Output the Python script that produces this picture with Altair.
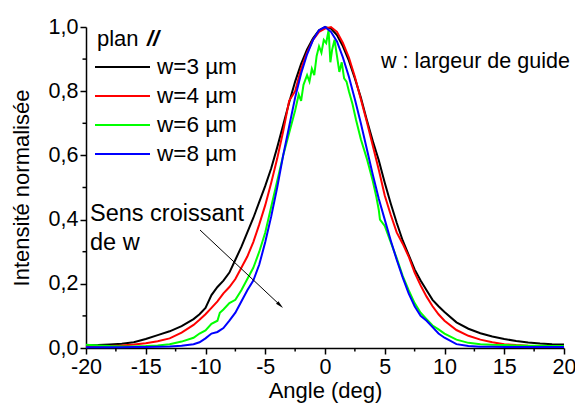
import altair as alt
import pandas as pd

FONT = "Liberation Sans"

SERIES = ["w=3 µm", "w=4 µm", "w=6 µm", "w=8 µm"]
COLORS = ["#000000", "#ff0000", "#00ff00", "#0000ff"]

ANGLE = [-20, -19, -18, -17, -16, -15, -14, -13, -12, -11, -10.5,
         -10, -9.5, -9, -8.5, -8, -7.5, -7, -6.5, -6, -5.5, -5, -4.5, -4, -3.5, -3, -2.5, -2, -1.5, -1, -0.5,
         0, 0.5, 1, 1.5, 2, 2.5, 3, 3.5, 4, 4.5, 5, 5.5, 6, 6.5, 7, 7.5, 8, 8.5, 9, 9.5, 10,
         11, 12, 13, 14, 15, 16, 17, 18, 19, 20]

W3 = [0.008, 0.009, 0.011, 0.013, 0.018, 0.028, 0.040, 0.052, 0.068, 0.090, 0.105,
      0.125, 0.165, 0.19, 0.21, 0.235, 0.275, 0.315, 0.36, 0.405, 0.455, 0.505, 0.56, 0.625, 0.695, 0.765, 0.83, 0.885, 0.93, 0.965, 0.99,
      1.0, 0.995, 0.975, 0.94, 0.895, 0.84, 0.78, 0.71, 0.645, 0.585, 0.515, 0.45, 0.39, 0.335, 0.29, 0.245, 0.21, 0.18, 0.15, 0.13, 0.112,
      0.08, 0.06, 0.046, 0.036, 0.028, 0.022, 0.017, 0.014, 0.012, 0.011]

W4 = [0.004, 0.005, 0.006, 0.008, 0.011, 0.015, 0.021, 0.030, 0.048, 0.072, 0.088,
      0.105, 0.125, 0.145, 0.17, 0.19, 0.215, 0.25, 0.285, 0.33, 0.385, 0.445, 0.515, 0.59, 0.675, 0.77, 0.80, 0.87, 0.92, 0.96, 0.985,
      0.995, 1.0, 0.985, 0.95, 0.905, 0.845, 0.775, 0.705, 0.63, 0.555, 0.475, 0.415, 0.36, 0.325, 0.285, 0.235, 0.195, 0.16, 0.13, 0.105, 0.085,
      0.056, 0.038, 0.026, 0.018, 0.012, 0.009, 0.007, 0.006, 0.005, 0.005]

W8 = [0.002, 0.002, 0.002, 0.002, 0.003, 0.003, 0.004, 0.005, 0.007, 0.012, 0.018,
      0.03, 0.045, 0.05, 0.062, 0.085, 0.11, 0.145, 0.18, 0.21, 0.26, 0.33, 0.41, 0.50, 0.60, 0.69, 0.78, 0.855, 0.915, 0.96, 0.99,
      1.0, 0.985, 0.955, 0.905, 0.845, 0.775, 0.70, 0.62, 0.54, 0.465, 0.40, 0.335, 0.275, 0.22, 0.17, 0.13, 0.10, 0.085, 0.065, 0.045, 0.032,
      0.012, 0.006, 0.004, 0.004, 0.003, 0.003, 0.003, 0.003, 0.003, 0.003]

ANGLE_W6 = [-20, -19, -18, -17, -16, -15, -14, -13, -12, -11, -10.5, -10, -9.5, -9, -8.8, -8.5, -8, -7.5, -7,
            -6.5, -6, -5.5, -5, -4.5, -4, -3.5, -3, -2.5, -2.2, -2, -1.8, -1.5, -1.3, -1.1, -0.9, -0.7, -0.5,
            -0.3, -0.1, 0.1, 0.3, 0.45, 0.6, 0.8, 1.0, 1.2, 1.4, 1.6, 1.8, 2.0, 2.3, 2.6, 3.0, 3.5, 4.0, 4.3,
            4.5, 4.6, 5.0, 5.5, 6, 6.5, 7, 7.5, 8, 8.5, 9, 9.5, 10, 11, 12, 13, 14, 15, 16, 17, 18, 19, 20]

W6 = [0.010, 0.008, 0.006, 0.005, 0.005, 0.006, 0.008, 0.012, 0.02, 0.032, 0.045, 0.055, 0.075, 0.085, 0.11, 0.12, 0.14, 0.15, 0.18,
      0.215, 0.25, 0.30, 0.36, 0.44, 0.52, 0.60, 0.67, 0.74, 0.79, 0.77, 0.82, 0.85, 0.83, 0.87, 0.85, 0.91, 0.94,
      0.92, 0.96, 0.95, 0.99, 0.89, 0.93, 0.96, 0.91, 0.86, 0.89, 0.84, 0.83, 0.80, 0.76, 0.71, 0.65, 0.59, 0.52, 0.47,
      0.43, 0.40, 0.38, 0.33, 0.28, 0.225, 0.18, 0.14, 0.11, 0.09, 0.07, 0.058, 0.045, 0.026, 0.016, 0.012, 0.01, 0.009, 0.008, 0.007, 0.007, 0.006, 0.006]

X_TICKS = [-20, -15, -10, -5, 0, 5, 10, 15, 20]
X_MINOR = [-17.5, -12.5, -7.5, -2.5, 2.5, 7.5, 12.5, 17.5]
Y_TICKS = [0.0, 0.2, 0.4, 0.6, 0.8, 1.0]
Y_MINOR = [0.1, 0.3, 0.5, 0.7, 0.9]

assert len(ANGLE) == len(W3) == len(W4) == len(W8), (len(ANGLE), len(W3), len(W4), len(W8))
assert len(ANGLE_W6) == len(W6), (len(ANGLE_W6), len(W6))

frames = []
for name, xs, ys in [(SERIES[0], ANGLE, W3), (SERIES[1], ANGLE, W4),
                     (SERIES[2], ANGLE_W6, W6), (SERIES[3], ANGLE, W8)]:
    frames.append(pd.DataFrame({"angle": xs, "intensity": ys, "series": name}))
df = pd.concat(frames, ignore_index=True)

W, H = 478, 321
x_scale = alt.Scale(domain=[-20, 20], nice=False, zero=False)
y_scale = alt.Scale(domain=[0, 1], nice=False)

x_axis = alt.Axis(values=X_TICKS, title="Angle (deg)", labelExpr="datum.value + ''",
                  titlePadding=3, labelFlush=False, labelOverlap=False)
y_axis = alt.Axis(values=Y_TICKS, title="Intensité normalisée",
                  labelExpr="replace(format(datum.value, '.1f'), '.', ',')", titlePadding=15,
                  labelFlush=False, labelOverlap=False)

lines = alt.Chart(df).mark_line(strokeWidth=2).encode(
    x=alt.X("angle:Q", scale=x_scale, axis=x_axis),
    y=alt.Y("intensity:Q", scale=y_scale, axis=y_axis),
    color=alt.Color("series:N", scale=alt.Scale(domain=SERIES, range=COLORS), legend=None),
)

minor_x = alt.Chart(pd.DataFrame({"angle": X_MINOR})).mark_rule(color="black", strokeWidth=1.5).encode(
    x=alt.X("angle:Q", scale=x_scale, axis=x_axis),
    y=alt.value(H), y2=alt.value(H + 3.5),
)
minor_y = alt.Chart(pd.DataFrame({"intensity": Y_MINOR})).mark_rule(color="black", strokeWidth=1.5).encode(
    y=alt.Y("intensity:Q", scale=y_scale, axis=y_axis),
    x=alt.value(0), x2=alt.value(-3.5),
)


def one():
    return alt.Chart(pd.DataFrame({"k": [0]}))


layers = [lines, minor_x, minor_y]

# legend (manual)
layers.append(one().mark_text(align="left", baseline="middle", font=FONT, fontSize=22, color="black").encode(
    x=alt.value(11), y=alt.value(12), text=alt.value("plan")))
layers.append(one().mark_text(align="left", baseline="middle", font=FONT, fontSize=22, fontWeight="bold",
                              fontStyle="italic", color="black").encode(
    x=alt.value(61), y=alt.value(12), text=alt.value("//")))
for i, (lab, col) in enumerate(zip(SERIES, COLORS)):
    yy = 40 + 29 * i
    layers.append(one().mark_rule(strokeWidth=2, color=col).encode(
        x=alt.value(9), x2=alt.value(64), y=alt.value(yy)))
    layers.append(one().mark_text(align="left", baseline="middle", font=FONT, fontSize=22.5, color="black").encode(
        x=alt.value(71), y=alt.value(yy), text=alt.value(lab)))

# annotations
layers.append(one().mark_text(align="left", baseline="middle", font=FONT, fontSize=21.5, color="black").encode(
    x=alt.value(295), y=alt.value(35), text=alt.value("w : largeur de guide")))
layers.append(one().mark_text(align="left", baseline="middle", font=FONT, fontSize=23.5, color="black").encode(
    x=alt.value(4), y=alt.value(187), text=alt.value("Sens croissant")))
layers.append(one().mark_text(align="left", baseline="middle", font=FONT, fontSize=23.5, color="black").encode(
    x=alt.value(4), y=alt.value(216), text=alt.value("de w")))

# arrow
layers.append(one().mark_rule(strokeWidth=1, color="black").encode(
    x=alt.value(114), y=alt.value(203), x2=alt.value(195), y2=alt.value(279)))
layers.append(one().mark_point(shape="M0,-1L0.35,0.6L-0.35,0.6Z", filled=True, color="black",
                               size=100, angle=133, opacity=1).encode(
    x=alt.value(193.4), y=alt.value(277.6)))

chart = alt.layer(*layers).properties(
    width=W, height=H,
    autosize=alt.AutoSizeParams(type="none"),
    padding={"left": 78, "top": 19, "right": 11, "bottom": 57},
).configure_axis(
    domainColor="black", domainWidth=1.5, tickColor="black", tickWidth=1.5, tickSize=6,
    labelFont=FONT, labelFontSize=21.5, labelColor="black", labelPadding=2,
    titleFont=FONT, titleFontSize=22, titleFontWeight="normal", titleColor="black",
    grid=False,
).configure_view(stroke="transparent")

chart.save("out.html", embed_options={"renderer": "svg", "actions": False})
